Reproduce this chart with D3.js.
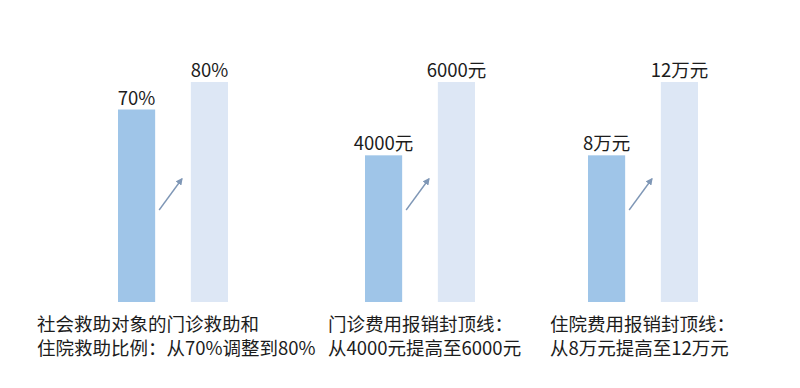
<!DOCTYPE html>
<html lang="zh">
<head>
    <meta charset="UTF-8">
    <title>救助标准提高</title>
    <script src="https://d3js.org/d3.v7.min.js"></script>
    <style>
        body { margin: 0; background: #fff; }
        text { font-family: "Noto Sans CJK SC", "Noto Sans", sans-serif; fill: #1c1c1c; }
        text.cap { font-family: "Noto Sans CJK TC", "Noto Sans CJK SC", sans-serif; }
    </style>
</head>
<body>
    <svg width="800" height="388"></svg>
    <script>
        // data
        var stages = ['调整前', '调整后'];
        var groups = ['救助比例', '门诊封顶线', '住院封顶线'];
        var before = [70, 4000, 8];
        var after = [80, 6000, 12];
        var valueLabels = [['70%', '80%'], ['4000元', '6000元'], ['8万元', '12万元']];
        var captions = [
            ['社会救助对象的门诊救助和', '住院救助比例：从70%调整到80%'],
            ['门诊费用报销封顶线：', '从4000元提高至6000元'],
            ['住院费用报销封顶线：', '从8万元提高至12万元']
        ];

        // layout
        var groupLeft = [118, 365, 588];
        var captionLeft = [37, 328, 550];
        var baseY = 302, maxH = 220;
        var colors = ['#9fc5e8', '#dde7f5'];

        var svg = d3.select('svg');
        svg.append('defs').append('marker')
            .attr('id', 'head')
            .attr('viewBox', '0 0 10 10')
            .attr('refX', 8).attr('refY', 5)
            .attr('markerWidth', 5).attr('markerHeight', 5)
            .attr('orient', 'auto')
            .append('path')
            .attr('d', 'M0,0 L10,5 L0,10 Z')
            .attr('fill', '#7f97b6');

        var x = d3.scaleBand().domain(stages).range([0, 110]).paddingInner(0.49);

        groups.forEach(function(name, gi) {
            var vals = [before[gi], after[gi]];
            var y = d3.scaleLinear().domain([0, d3.max(vals)]).range([baseY, baseY - maxH]);
            var g = svg.append('g').attr('transform', 'translate(' + groupLeft[gi] + ',0)');

            g.selectAll('rect').data(vals)
                .enter().append('rect')
                .attr('x', (d, i) => x(stages[i]))
                .attr('width', x.bandwidth())
                .attr('y', d => y(d))
                .attr('height', d => baseY - y(d))
                .attr('fill', (d, i) => colors[i]);

            g.selectAll('text.val').data(vals)
                .enter().append('text')
                .attr('class', 'val')
                .attr('x', (d, i) => x(stages[i]) + x.bandwidth() / 2)
                .attr('y', d => y(d) - 5)
                .attr('text-anchor', 'middle')
                .style('font-size', '18.5px')
                .text((d, i) => valueLabels[gi][i]);

            // arrow between the two bars
            var x1 = x(stages[0]) + x.bandwidth() + 4;
            var x2 = x(stages[1]) - 9;
            g.append('line')
                .attr('x1', x1).attr('y1', 210)
                .attr('x2', x2).attr('y2', 179)
                .attr('stroke', '#7f97b6')
                .attr('stroke-width', 1.4)
                .attr('marker-end', 'url(#head)');

            var cap = svg.append('text')
                .attr('class', 'cap')
                .style('font-size', '18.5px');
            cap.selectAll('tspan').data(captions[gi])
                .enter().append('tspan')
                .attr('x', captionLeft[gi])
                .attr('y', (d, i) => 331 + i * 24)
                .text(d => d);
        });
    </script>
</body>
</html>
